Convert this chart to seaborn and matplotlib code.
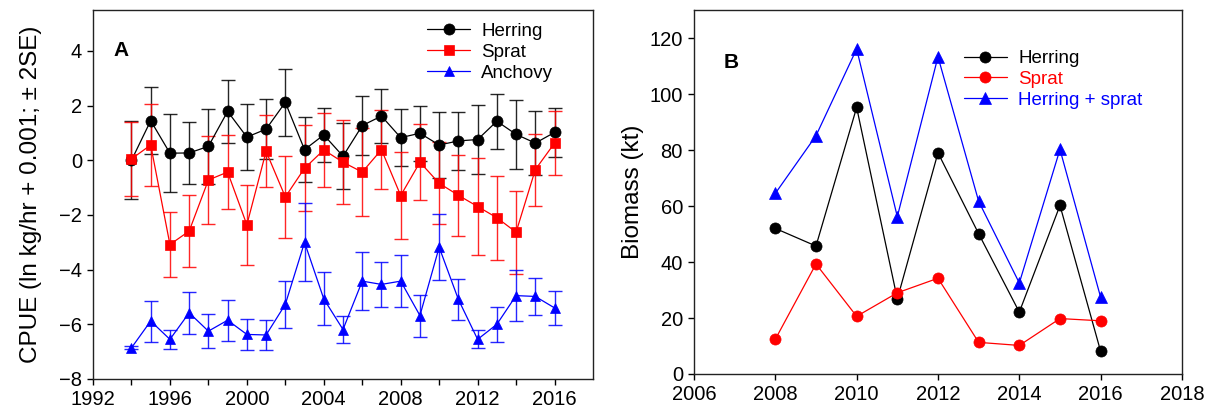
import numpy as np
import matplotlib
matplotlib.use("Agg")
import matplotlib.pyplot as plt
import seaborn as sns

# Panel A: CPUE (ln kg/hr + 0.001), error half-widths are 2SE
years_a = list(range(1994, 2017))
herring_cpue = [0.00, 1.45, 0.26, 0.27, 0.51, 1.79, 0.85, 1.14, 2.12, 0.39, 0.93, 0.15,
                1.27, 1.62, 0.83, 0.99, 0.56, 0.71, 0.76, 1.43, 0.95, 0.63, 1.02]
herring_err = [1.43, 1.23, 1.42, 1.12, 1.38, 1.15, 1.21, 1.10, 1.22, 1.20, 0.99, 1.20,
               1.08, 1.00, 1.04, 1.01, 1.20, 1.05, 1.27, 1.01, 1.25, 1.16, 0.91]
sprat_cpue = [0.05, 0.56, -3.08, -2.59, -0.72, -0.43, -2.36, 0.33, -1.34, -0.29, 0.38, -0.07,
              -0.43, 0.39, -1.29, -0.07, -0.84, -1.28, -1.69, -2.10, -2.63, -0.34, 0.63]
sprat_err = [1.35, 1.50, 1.19, 1.33, 1.61, 1.35, 1.47, 1.32, 1.51, 1.57, 1.35, 1.54,
             1.62, 1.44, 1.60, 1.40, 1.50, 1.49, 1.78, 1.54, 1.52, 1.32, 1.17]
anchovy_cpue = [-6.86, -5.88, -6.55, -5.58, -6.25, -5.85, -6.37, -6.39, -5.27, -3.00, -5.07, -6.19,
                -4.42, -4.54, -4.42, -5.68, -3.18, -5.09, -6.55, -6.00, -4.95, -4.98, -5.40]
anchovy_err = [0.05, 0.75, 0.35, 0.77, 0.62, 0.75, 0.57, 0.55, 0.87, 1.42, 0.97, 0.50,
               1.05, 0.82, 0.94, 0.77, 1.21, 0.76, 0.33, 0.63, 0.94, 0.68, 0.62]

# Panel B: biomass (kt)
years_b = list(range(2008, 2017))
herring_bio = [52.0, 45.7, 95.2, 26.8, 79.0, 50.1, 22.1, 60.2, 8.1]
sprat_bio = [12.4, 39.3, 20.6, 29.0, 34.2, 11.3, 10.2, 19.8, 19.0]
total_bio = [64.5, 85.1, 116.1, 56.2, 113.3, 61.7, 32.5, 80.2, 27.4]

xticks_a = list(range(1992, 2018, 2))
xticklabels_a = [str(y) if (y - 1992) % 4 == 0 else "" for y in xticks_a]
yticks_a = [-8, -6, -4, -2, 0, 2, 4]
xticks_b = list(range(2006, 2019, 2))
yticks_b = [0, 20, 40, 60, 80, 100, 120]

sns.set_style("ticks")
plt.rcParams["font.family"] = ["Liberation Sans", "DejaVu Sans"]
plt.rcParams["text.color"] = "black"
plt.rcParams["axes.labelcolor"] = "black"

fig = plt.figure(figsize=(12.27, 4.19), dpi=100)
ax_a = fig.add_axes([0.0758, 0.0955, 0.4075, 0.8807])
ax_b = fig.add_axes([0.5656, 0.1074, 0.3977, 0.8687])

# --- panel A
series_a = [
    ("Herring", herring_cpue, herring_err, "black", "o"),
    ("Sprat", sprat_cpue, sprat_err, "red", "s"),
    ("Anchovy", anchovy_cpue, anchovy_err, "blue", "^"),
]
for name, vals, err, col, mk in series_a:
    ax_a.errorbar(years_a, vals, yerr=err, fmt="none", ecolor=col, elinewidth=1,
                  capsize=5, capthick=1, alpha=0.85, zorder=2)
    sns.lineplot(x=years_a, y=vals, ax=ax_a, color=col, marker=mk, ms=7.5 if mk != "o" else 8,
                 mec=col, mew=0.5, lw=0.9, label=name, zorder=3)

ax_a.set_xlim(1992, 2018)
ax_a.set_ylim(-8, 5.5)
ax_a.set_xticks(xticks_a)
ax_a.set_xticklabels(xticklabels_a)
ax_a.set_yticks(yticks_a)
ax_a.set_xlabel("")
ax_a.set_ylabel("CPUE (ln kg/hr + 0.001; \u00b1 2SE)", fontsize=17.5, labelpad=12)
ax_a.text(0.04, 0.875, "A", transform=ax_a.transAxes, fontsize=15, fontweight="bold")
ax_a.legend(loc="upper left", bbox_to_anchor=(0.668, 0.965), frameon=False, fontsize=13.5,
            handlelength=2.3, handletextpad=0.6, labelspacing=0.2, borderpad=0, borderaxespad=0)

# --- panel B
series_b = [
    ("Herring", herring_bio, "black", "o"),
    ("Sprat", sprat_bio, "red", "o"),
    ("Herring + sprat", total_bio, "blue", "^"),
]
for name, vals, col, mk in series_b:
    sns.lineplot(x=years_b, y=vals, ax=ax_b, color=col, marker=mk, ms=8,
                 mec=col, mew=0.5, lw=0.9, label=name)

ax_b.set_xlim(2006, 2018)
ax_b.set_ylim(0, 130)
ax_b.set_xticks(xticks_b)
ax_b.set_yticks(yticks_b)
ax_b.set_xlabel("")
ax_b.set_ylabel("Biomass (kt)", fontsize=17.5, labelpad=4)
ax_b.text(0.06, 0.84, "B", transform=ax_b.transAxes, fontsize=15, fontweight="bold")
ax_b.legend(loc="upper left", bbox_to_anchor=(0.553, 0.89), frameon=False, fontsize=13.5,
            handlelength=2.3, handletextpad=0.6, labelspacing=0.2, borderpad=0,
            borderaxespad=0, labelcolor="linecolor")

for ax in (ax_a, ax_b):
    for s in ax.spines.values():
        s.set_visible(True)
        s.set_linewidth(1.0)
        s.set_color("#222222")
    ax.tick_params(axis="both", which="both", direction="out", length=4, width=1,
                   labelsize=14.5, top=False, right=False, colors="black", pad=4)

fig.savefig("out.png", dpi=100, facecolor="white")
